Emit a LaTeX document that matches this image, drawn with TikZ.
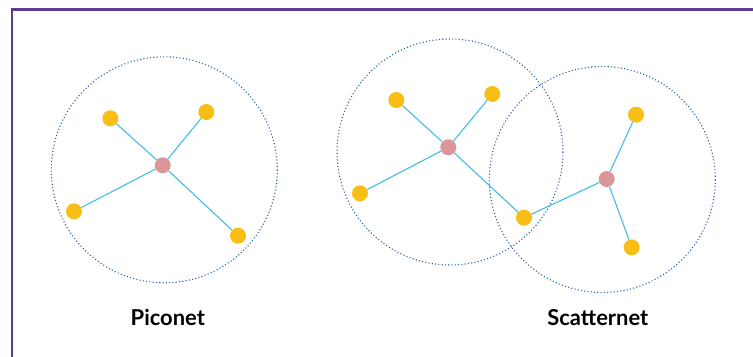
\documentclass[tikz,border=0pt]{standalone}
\usepackage{fontspec}
\setmainfont{Lato}
\definecolor{framepurple}{RGB}{94,58,150}
\definecolor{linkblue}{RGB}{64,190,230}
\definecolor{rangeblue}{RGB}{40,100,175}
\definecolor{slavegold}{RGB}{249,190,22}
\definecolor{masterpink}{RGB}{218,150,152}
\tikzset{
  slavedot/.style={circle, fill=slavegold, minimum size=16bp, inner sep=0pt},
  masterdot/.style={circle, fill=masterpink, minimum size=16bp, inner sep=0pt},
  linkline/.style={draw=linkblue, line width=1.1bp},
  rangering/.style={draw=rangeblue, line width=1.1bp, dash pattern=on 1.1bp off 2.2bp},
  captiontext/.style={font=\fontsize{22}{24}\selectfont\bfseries, inner sep=0pt, anchor=base}
}
\begin{document}
\begin{tikzpicture}[x=1bp, y=-1bp]
\useasboundingbox (0,0) rectangle (753,356);
\draw[framepurple, line width=2.5bp] (12.2,357) -- (12.2,9.3) -- (754,9.3);

% Piconet
\draw[rangering] (164.3,169.8) circle (113);
\node[masterdot] (pm) at (162.7,165.3) {};
\node[slavedot] (p1) at (110.3,118.3) {};
\node[slavedot] (p2) at (206.3,112) {};
\node[slavedot] (p3) at (74,211.3) {};
\node[slavedot] (p4) at (238,235.7) {};
\node[captiontext] (pc) at (167.8,325) {Piconet};

% Scatternet
\draw[rangering] (450,152) circle (113);
\draw[rangering] (602.3,179.5) circle (113);
\node[masterdot] (sm1) at (448.3,147.3) {};
\node[masterdot] (sm2) at (606.7,179) {};
\node[slavedot] (s1) at (396.3,100) {};
\node[slavedot] (s2) at (492.3,94) {};
\node[slavedot] (s3) at (360,193.3) {};
\node[slavedot] (sb) at (524,217.7) {};
\node[slavedot] (s4) at (636,114.7) {};
\node[slavedot] (s5) at (631.7,247.3) {};
\node[captiontext] (sc) at (597.8,325) {Scatternet};

\draw[linkline] (pm) -- (p1);
\draw[linkline] (pm) -- (p2);
\draw[linkline] (pm) -- (p3);
\draw[linkline] (pm) -- (p4);
\draw[linkline] (sm1) -- (s1);
\draw[linkline] (sm1) -- (s2);
\draw[linkline] (sm1) -- (s3);
\draw[linkline] (sm1) -- (sb);
\draw[linkline] (sm2) -- (sb);
\draw[linkline] (sm2) -- (s4);
\draw[linkline] (sm2) -- (s5);
\end{tikzpicture}
\end{document}
